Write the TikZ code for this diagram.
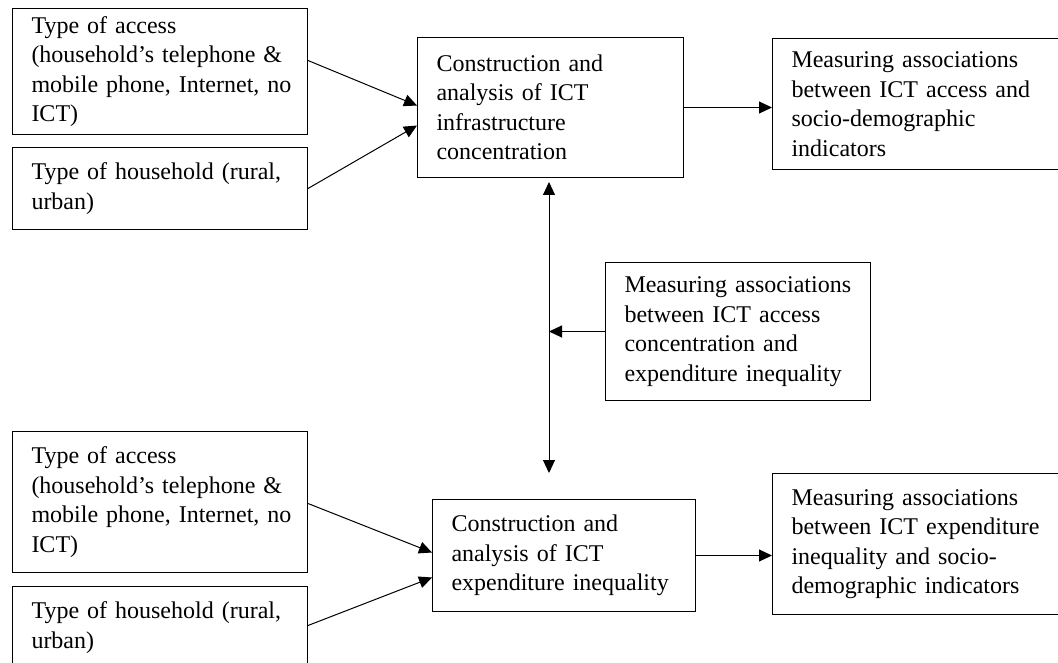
\documentclass[tikz,border=0pt]{standalone}
\usepackage{fontspec}
\setmainfont{Liberation Serif}
\usetikzlibrary{arrows.meta,calc}
\tikzset{
  stage/.style={draw=black, line width=1pt, align=left, anchor=north west,
    inner xsep=19pt, inner ysep=0pt, font=\fontsize{24}{29.5}\selectfont,
    execute at begin node={\hyphenpenalty=10000\relax\hbadness=10000\relax}},
  link/.style={draw=black, line width=1pt, -{Triangle[length=13pt,width=12pt]}},
  twoway/.style={draw=black, line width=1pt,
    {Triangle[length=13pt,width=12pt]}-{Triangle[length=13pt,width=12pt]}}
}
\begin{document}
\begin{tikzpicture}[x=1pt,y=-1pt]
    \useasboundingbox (0,0) rectangle (1058,663);
    \fill [white] (0,0) rectangle (1058,663);
    \node [stage, text width=257pt, minimum height=126pt] (access1) at (12,8)
      {Type of access\\\mbox{(household’s telephone \&}\\\mbox{mobile phone, Internet, no}\\ICT)};
    \node [stage, text width=257pt, minimum height=82pt] (house1) at (12,147)
      {Type of household (rural,\\urban)};
    \node [stage, text width=228pt, minimum height=140pt] (infra) at (417,37)
      {Construction and\\analysis of ICT\\infrastructure\\concentration};
    \node [stage, text width=262pt, minimum height=131pt] (assocA) at (772,38)
      {Measuring associations\\between ICT access and\\socio-demographic\\indicators};
    \node [stage, text width=227pt, minimum height=138pt] (assocM) at (605,262)
      {Measuring associations\\between ICT access\\concentration and\\expenditure inequality};
    \node [stage, text width=257pt, minimum height=141pt] (access2) at (12,431)
      {Type of access\\\mbox{(household’s telephone \&}\\\mbox{mobile phone, Internet, no}\\ICT)};
    \node [stage, text width=257pt, minimum height=82pt] (house2) at (12,586)
      {Type of household (rural,\\urban)};
    \node [stage, text width=225pt, minimum height=112pt] (expend) at (432,499)
      {Construction and\\analysis of ICT\\expenditure inequality};
    \node [stage, text width=262pt, minimum height=141pt] (assocE) at (772,473)
      {Measuring associations\\between ICT expenditure\\inequality and socio-\\demographic indicators};
    \coordinate (axis) at (549,473);
    \draw [link] ([yshift=11pt]access1.east) -- ([yshift=2pt]infra.west);
    \draw [link] (house1.east) -- ([yshift=-18pt]infra.west);
    \draw [link] (infra.east) -- (infra.east -| assocA.west);
    \draw [twoway, shorten <=4pt] (axis |- infra.south) -- (axis);
    \draw [link] (assocM.west) -- (axis |- assocM.west);
    \draw [link] ([yshift=-1.5pt]access2.east) -- ([yshift=3pt]expend.west);
    \draw [link] ([yshift=2pt]house2.east) -- ([yshift=-22pt]expend.west);
    \draw [link] (expend.east) -- (expend.east -| assocE.west);
\end{tikzpicture}
\end{document}
